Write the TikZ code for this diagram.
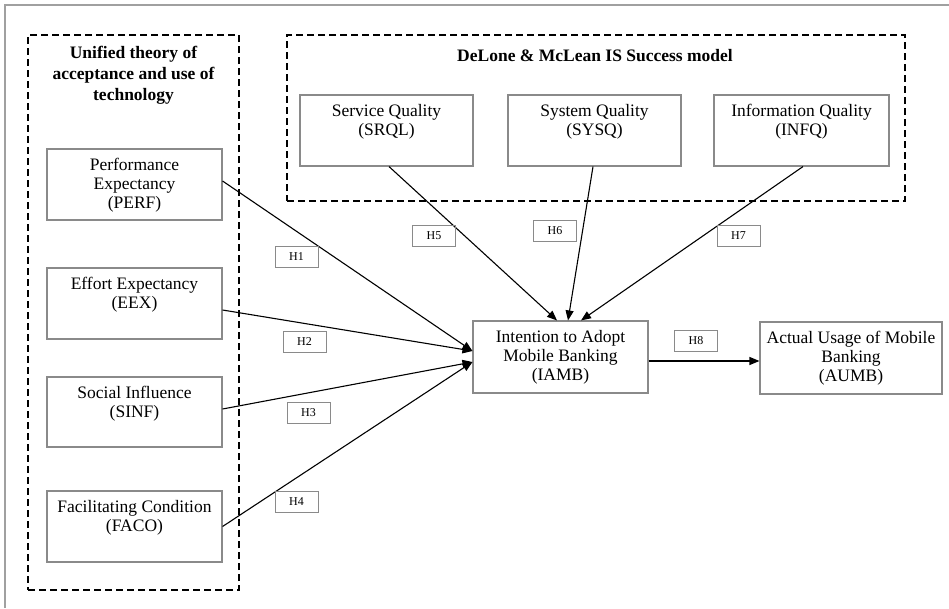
\documentclass[tikz,border=0pt]{standalone}
\usepackage{fontspec}
\setmainfont{Liberation Serif}
\usetikzlibrary{arrows.meta}
\definecolor{boxgray}{HTML}{8A8A8A}
\definecolor{framegray}{HTML}{A0A0A0}
\tikzset{
  bx/.style={draw=boxgray, line width=1.1pt, rectangle, inner sep=0pt},
  dbox/.style={draw=black, line width=1.2pt, dash pattern=on 7pt off 4pt, rectangle, inner sep=0pt},
  txt/.style={align=center, inner sep=0pt, font=\fontsize{17.5}{19}\selectfont, anchor=north},
  ttl/.style={align=center, inner sep=0pt, font=\fontsize{17.5}{21}\selectfont\bfseries, anchor=north},
  hb/.style={draw=boxgray, line width=1pt, rectangle, inner sep=0pt, minimum width=43pt, minimum height=21pt, font=\fontsize{12}{12}\selectfont},
  arr/.style={draw=black, line width=1.1pt, -{Triangle[length=10pt,width=8pt]}},
}
\begin{document}
\begin{tikzpicture}[x=1pt,y=-1pt]
\useasboundingbox (0,0) rectangle (949,608);
% outer frame
\coordinate (fa) at (5,608);
\coordinate (fb) at (5,5);
\coordinate (fc) at (949,5);
\draw[framegray, line width=1.2pt] (fa) -- (fb) -- (fc);

% dashed groups
\node[dbox, minimum width=211pt, minimum height=555pt] (utaut) at (133.5,312.5) {};
\node[dbox, minimum width=618pt, minimum height=166pt] (dm) at (596,118) {};
\node[ttl] (utautt) at (133.5,46) {Unified theory of\\acceptance and use of\\technology};
\node[ttl] (dmt) at (595,49) {DeLone \& McLean IS Success model};

% left boxes
\node[bx, minimum width=175pt, minimum height=71pt] (perf) at (134.5,184.5) {};
\node[txt] (perft) at ([yshift=-10pt]perf.north) {Performance\\Expectancy\\(PERF)};
\node[bx, minimum width=175pt, minimum height=71pt] (eex) at (134.5,303.5) {};
\node[txt] (eext) at ([yshift=-10pt]eex.north) {Effort Expectancy\\(EEX)};
\node[bx, minimum width=175pt, minimum height=70pt] (sinf) at (134.5,412) {};
\node[txt] (sinft) at ([yshift=-10pt]sinf.north) {Social Influence\\(SINF)};
\node[bx, minimum width=175pt, minimum height=71pt] (faco) at (134.5,526.5) {};
\node[txt] (facot) at ([yshift=-10pt]faco.north) {Facilitating Condition\\(FACO)};

% top boxes
\node[bx, minimum width=173pt, minimum height=71pt] (srql) at (386.5,130.5) {};
\node[txt] (srqlt) at ([yshift=-9.5pt]srql.north) {Service Quality\\(SRQL)};
\node[bx, minimum width=173pt, minimum height=71pt] (sysq) at (594.5,130.5) {};
\node[txt] (sysqt) at ([yshift=-9.5pt]sysq.north) {System Quality\\(SYSQ)};
\node[bx, minimum width=175pt, minimum height=71pt] (infq) at (801.5,130.5) {};
\node[txt] (infqt) at ([yshift=-9.5pt]infq.north) {Information Quality\\(INFQ)};

% outcome boxes
\node[bx, minimum width=175pt, minimum height=72pt] (iamb) at (560.5,357) {};
\node[txt] (iambt) at ([yshift=-10pt]iamb.north) {Intention to Adopt\\Mobile Banking\\(IAMB)};
\node[bx, minimum width=182pt, minimum height=72pt] (aumb) at (851,358) {};
\node[txt] (aumbt) at ([yshift=-10pt]aumb.north) {Actual Usage of Mobile\\Banking\\(AUMB)};

% connectors
\draw[arr] ([yshift=3.5pt]perf.east) -- ([yshift=6pt]iamb.west);
\draw[arr] ([yshift=-6.5pt]eex.east) -- ([yshift=6pt]iamb.west);
\draw[arr] ([yshift=3pt]sinf.east) -- ([yshift=-5pt]iamb.west);
\draw[arr] (faco.east) -- ([yshift=-5pt]iamb.west);
\draw[arr] ([xshift=2.5pt]srql.south) -- ([xshift=-3.5pt]iamb.north);
\draw[arr] ([xshift=-1.5pt]sysq.south) -- ([xshift=7.5pt]iamb.north);
\draw[arr] ([xshift=1.5pt]infq.south) -- ([xshift=20.5pt]iamb.north);
\coordinate (h8s) at ([yshift=-4pt]iamb.east);
\draw[arr] (h8s) -- (aumb.west |- h8s);

% hypothesis labels
\node[hb] (h1) at (296.5,257) {H1};
\node[hb] (h2) at (304.5,341.5) {H2};
\node[hb] (h3) at (308.5,412.5) {H3};
\node[hb] (h4) at (296.5,502) {H4};
\node[hb] (h5) at (434,236) {H5};
\node[hb] (h6) at (555,231) {H6};
\node[hb] (h7) at (738.5,235.5) {H7};
\node[hb] (h8) at (696,341) {H8};
\end{tikzpicture}
\end{document}
